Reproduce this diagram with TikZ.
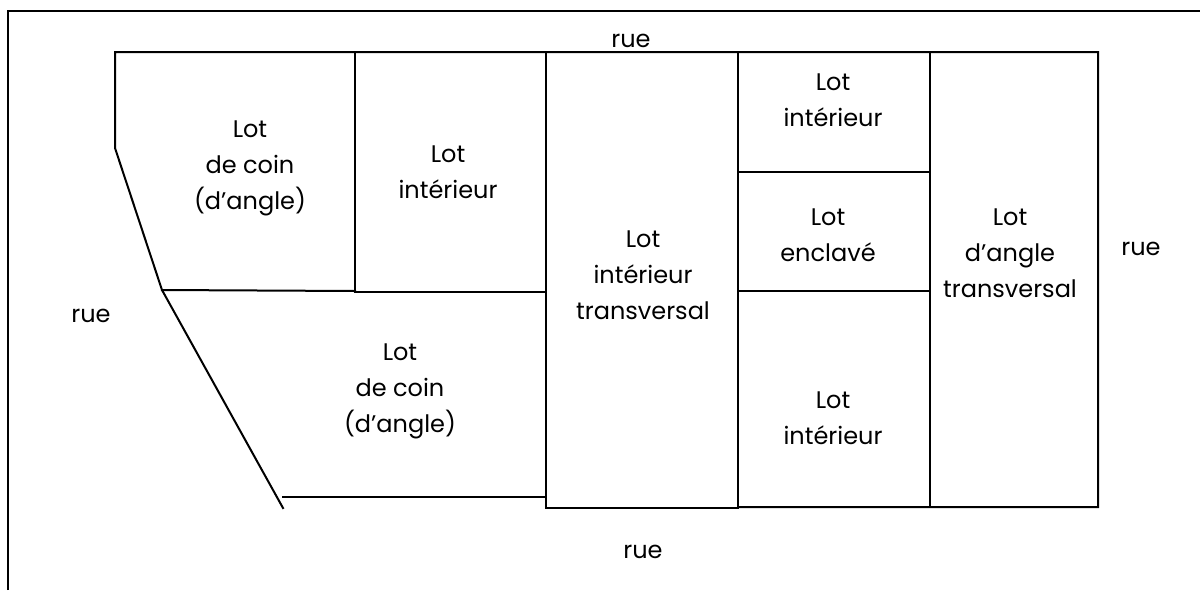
\documentclass[tikz,border=0pt]{standalone}
\usepackage{fontspec}
\setmainfont{Poppins}
\begin{document}
\begin{tikzpicture}[x=0.5pt,y=-0.5pt,
  parcel/.style={line width=1pt, line cap=rect},
  lotlabel/.style={align=center, inner sep=0pt, font=\fontsize{12}{18}\selectfont},
  streetlabel/.style={anchor=base, inner sep=0pt, font=\fontsize{12}{18}\selectfont}]
\useasboundingbox (0,0) rectangle (1200,590);
% sheet edge
\draw[line width=1pt] (7.5,590) -- (7.5,11) -- (1200,11);

% corners of the block
\coordinate (nw) at (115,52);
\coordinate (bend) at (115,148);
\coordinate (mid) at (162,290);
\coordinate (sw) at (283,508);
\coordinate (ne) at (1098,52);
\coordinate (se) at (1098,507);

% outline of the block
\draw[parcel] (sw) -- (mid) -- (bend) -- (nw) -- (ne) -- (se) -- (738,507);
% corner lots on the left
\draw[parcel] (mid) -- (355,291);
\draw[parcel] (283,497) -- (546,497);
% interior lot
\draw[parcel] (355,52) -- (355,292) -- (546,292);
% through lot
\draw[parcel] (546,52) -- (546,508) -- (738,508) -- (738,52);
% column of small lots
\draw[parcel] (738,172) -- (930,172);
\draw[parcel] (738,291) -- (930,291);
\draw[parcel] (930,52) -- (930,507);

% lot names
\node[lotlabel] (l1) at (250,168) {Lot\\de coin\\(d’angle)};
\node[lotlabel] (l2) at (448,172) {Lot\\intérieur};
\node[lotlabel] (l3) at (643,275) {Lot\\intérieur\\transversal};
\node[lotlabel] (l4) at (833,100) {Lot\\intérieur};
\node[lotlabel] (l5) at (828,235) {Lot\\enclavé};
\node[lotlabel] (l6) at (1010,253) {Lot\\d’angle\\transversal};
\node[lotlabel] (l7) at (400,391) {Lot\\de coin\\(d’angle)};
\node[lotlabel] (l8) at (833,418) {Lot\\intérieur};

% streets
\node[streetlabel] (rn) at (631,47) {rue};
\node[streetlabel] (rw) at (91,322) {rue};
\node[streetlabel] (re) at (1141,255) {rue};
\node[streetlabel] (rs) at (643,558) {rue};
\end{tikzpicture}
\end{document}
